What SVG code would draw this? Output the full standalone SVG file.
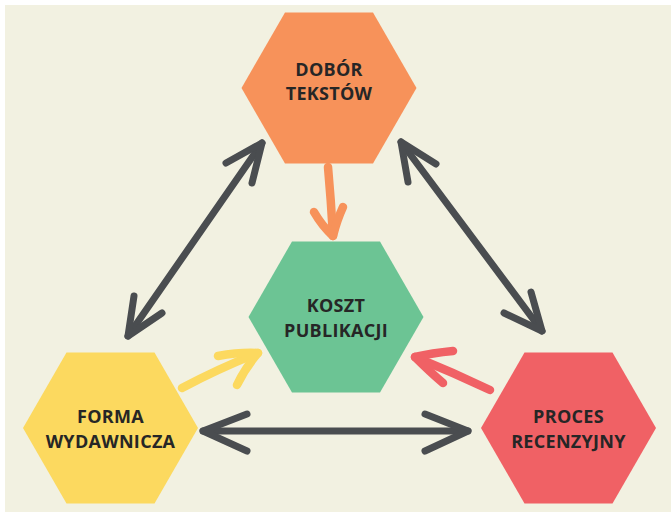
<svg xmlns="http://www.w3.org/2000/svg" width="671" height="513" viewBox="0 0 671 513">
<style>
.lbl{font-family:"Open Sans","Noto Sans",sans-serif;font-weight:700;font-size:18px;letter-spacing:0.3px;fill:#262626;text-anchor:middle}
.dbl{fill:none;stroke:#4a4d50;stroke-width:7;stroke-linecap:round;stroke-linejoin:round}
.hand{fill:none;stroke-width:8.5;stroke-linecap:round;stroke-linejoin:round}
</style>
<defs>
<polygon id="hex" points="-87.5,0 -44,-75.5 44,-75.5 87.5,0 44,75.5 -44,75.5"/>
</defs>
<rect x="0" y="0" width="671" height="513" fill="#ffffff"/>
<rect x="5" y="5" width="666" height="507" fill="#f2f1e1"/>
<g id="connectors">
<g id="c-top-left">
<path class="dbl" d="M262,143 L128,336"/>
<path class="dbl" d="M226,163 L262,143 L252,183"/>
<path class="dbl" d="M134,296 L128,336 L162,313"/>
</g>
<g id="c-top-right">
<path class="dbl" d="M401,142 L542,331"/>
<path class="dbl" d="M436,164 L401,142 L408,182"/>
<path class="dbl" d="M531,292 L542,331 L504,313"/>
</g>
<g id="c-bottom">
<path class="dbl" d="M203,431 L468,431"/>
<path class="dbl" d="M247,414 L203,431 L247,451"/>
<path class="dbl" d="M425,414 L468,431 L425,451"/>
</g>
<g id="c-orange">
<path class="hand" stroke="#f7925a" d="M328,167 Q331,200 333,236"/>
<path class="hand" stroke="#f7925a" d="M314,212 Q322,226 333,236 Q337,220 343,207"/>
</g>
<g id="c-yellow">
<path class="hand" stroke="#fcd95f" d="M182,388 Q220,368 258,353"/>
<path class="hand" stroke="#fcd95f" d="M218,356 Q240,352 258,353 Q245,368 237,385"/>
</g>
<g id="c-red">
<path class="hand" stroke="#f06165" d="M490,390 Q452,372 415,357"/>
<path class="hand" stroke="#f06165" d="M453,351 Q432,353 415,357 Q430,372 443,383"/>
</g>
</g>
<g id="node-dobor">
<use href="#hex" x="329" y="88" fill="#f7925a"/>
<text class="lbl" x="329" y="76">DOBÓR</text>
<text class="lbl" x="329" y="100">TEKSTÓW</text>
</g>
<g id="node-koszt">
<use href="#hex" x="336" y="317" fill="#6cc494"/>
<text class="lbl" x="336" y="312">KOSZT</text>
<text class="lbl" x="336" y="337">PUBLIKACJI</text>
</g>
<g id="node-forma">
<use href="#hex" x="110.5" y="428" fill="#fcd95f"/>
<text class="lbl" x="110.5" y="423">FORMA</text>
<text class="lbl" x="110.5" y="448">WYDAWNICZA</text>
</g>
<g id="node-proces">
<use href="#hex" x="568.5" y="428" fill="#f06165"/>
<text class="lbl" x="568.5" y="423">PROCES</text>
<text class="lbl" x="568.5" y="448">RECENZYJNY</text>
</g>
</svg>
